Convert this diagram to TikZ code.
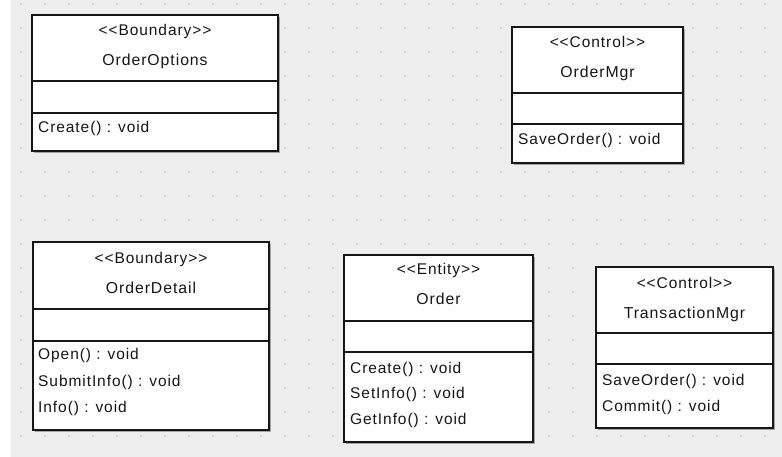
\documentclass[tikz,border=0pt]{standalone}
\usepackage{fontspec}
\newfontfamily\umlfont{Liberation Sans}[LetterSpace=6.0]
\usepackage{xcolor}
\usetikzlibrary{shadows}

\definecolor{canvasgray}{HTML}{EEEEEE}
\definecolor{dotgray}{HTML}{CFCFCF}
\definecolor{inkgray}{HTML}{161616}

\begin{document}
\begin{tikzpicture}[x=1pt,y=-1pt,
  classbox/.style={draw=inkgray,line width=1.3pt,fill=white,anchor=north west,
    inner sep=0pt,outer sep=0pt,
    drop shadow={shadow xshift=1.6pt,shadow yshift=-1.6pt,opacity=0.45,fill=black!70}},
  divider/.style={draw=inkgray,line width=1.1pt},
  stereo/.style={anchor=base,inner sep=0pt,text=inkgray,font=\umlfont\fontsize{15.5}{18}\selectfont},
  cname/.style={anchor=base,inner sep=0pt,text=inkgray,font=\umlfont\fontsize{15.8}{19}\selectfont},
  op/.style={anchor=base west,inner sep=0pt,text=inkgray,font=\umlfont\fontsize{15.5}{18}\selectfont}]
  \useasboundingbox (0,0) rectangle (782,457);
  % canvas with dot grid
  \fill[canvasgray] (11,0) rectangle (782,457);
  \foreach \gx in {21,45,...,765}
    \foreach \gy in {4,28,...,436}
      \fill[dotgray] (\gx-1,\gy-1) rectangle +(2.2,2.2);
  % OrderOptions
  \node[classbox,minimum width=246,minimum height=136] (orderoptions) at (32,15) {};
  \draw[divider] (orderoptions.west |- 0,81) -- (orderoptions.east |- 0,81);
  \draw[divider] (orderoptions.west |- 0,113) -- (orderoptions.east |- 0,113);
  \node[stereo] (oo-st) at (155,36) {<<Boundary>>};
  \node[cname] (oo-name) at (155,66) {OrderOptions};
  \node[op] (oo-op1) at (38,133) {Create() : void};
  % OrderMgr
  \node[classbox,minimum width=171,minimum height=136] (ordermgr) at (512,27) {};
  \draw[divider] (ordermgr.west |- 0,93) -- (ordermgr.east |- 0,93);
  \draw[divider] (ordermgr.west |- 0,124) -- (ordermgr.east |- 0,124);
  \node[stereo] (om-st) at (597.5,48) {<<Control>>};
  \node[cname] (om-name) at (597.5,78) {OrderMgr};
  \node[op] (om-op1) at (518,145) {SaveOrder() : void};
  % OrderDetail
  \node[classbox,minimum width=236,minimum height=188] (orderdetail) at (33,242) {};
  \draw[divider] (orderdetail.west |- 0,309) -- (orderdetail.east |- 0,309);
  \draw[divider] (orderdetail.west |- 0,341) -- (orderdetail.east |- 0,341);
  \node[stereo] (od-st) at (151,263) {<<Boundary>>};
  \node[cname] (od-name) at (151,293) {OrderDetail};
  \node[op] (od-op1) at (38,359) {Open() : void};
  \node[op] (od-op2) at (38,386) {SubmitInfo() : void};
  \node[op] (od-op3) at (38,412) {Info() : void};
  % Order
  \node[classbox,minimum width=189,minimum height=187] (order) at (344,255) {};
  \draw[divider] (order.west |- 0,321) -- (order.east |- 0,321);
  \draw[divider] (order.west |- 0,352) -- (order.east |- 0,352);
  \node[stereo] (or-st) at (438.5,274) {<<Entity>>};
  \node[cname] (or-name) at (438.5,304) {Order};
  \node[op] (or-op1) at (350,373) {Create() : void};
  \node[op] (or-op2) at (350,398) {SetInfo() : void};
  \node[op] (or-op3) at (350,424) {GetInfo() : void};
  % TransactionMgr
  \node[classbox,minimum width=177,minimum height=161] (transactionmgr) at (596,267) {};
  \draw[divider] (transactionmgr.west |- 0,333) -- (transactionmgr.east |- 0,333);
  \draw[divider] (transactionmgr.west |- 0,364) -- (transactionmgr.east |- 0,364);
  \node[stereo] (tm-st) at (684.5,288) {<<Control>>};
  \node[cname] (tm-name) at (684.5,318) {TransactionMgr};
  \node[op] (tm-op1) at (602,385) {SaveOrder() : void};
  \node[op] (tm-op2) at (602,411) {Commit() : void};
\end{tikzpicture}
\end{document}
